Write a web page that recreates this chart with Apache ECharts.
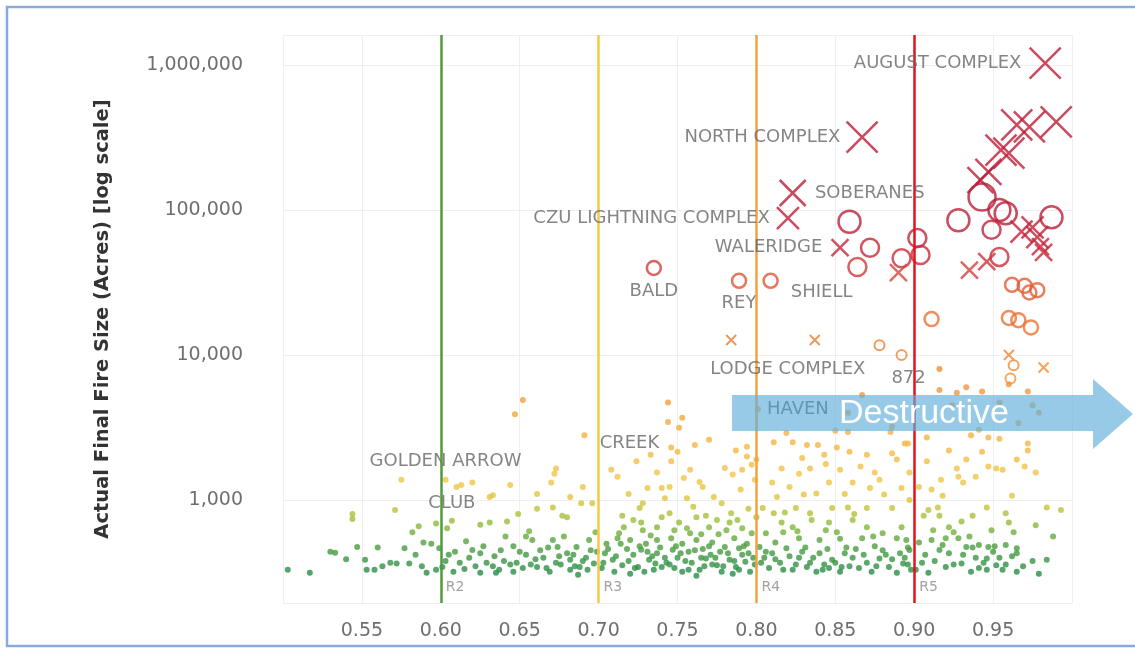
<!DOCTYPE html>
<html><head><meta charset="utf-8">
<script src="https://cdn.jsdelivr.net/npm/echarts@6/dist/echarts.min.js"></script>
<style>html,body{margin:0;padding:0;background:#fff}#c{width:1135px;height:650px}</style>
</head><body><div id="c"></div>
<script>
// ---- data ----
const refLines = [0.60, 0.70, 0.80, 0.90];
const refNames = ['R2', 'R3', 'R4', 'R5'];
const xTickValues = [0.55, 0.60, 0.65, 0.70, 0.75, 0.80, 0.85, 0.90, 0.95];
const yTickValues = [1000, 10000, 100000, 1000000];

const dots = [
  [0.503,330],[0.517,315],[0.530,440],[0.533,433],[0.544,800],[0.544,740],[0.547,474],[0.552,387],[0.553,330],[0.558,330],
  [0.568,370],[0.572,365],[0.571,853],[0.575,1380],[0.577,465],[0.580,365],[0.582,600],[0.589,510],[0.591,315],[0.594,500],
  [0.597,690],[0.597,330],[0.599,465],[0.601,345],[0.604,640],[0.608,320],[0.610,1230],[0.613,1270],[0.615,335],[0.620,453],
  [0.620,1320],[0.625,675],[0.625,430],[0.625,315],[0.629,370],[0.631,1050],[0.633,1080],[0.631,700],[0.633,350],[0.635,315],
  [0.642,710],[0.644,1270],[0.646,480],[0.646,320],[0.647,3900],[0.648,370],[0.649,800],[0.652,4900],[0.654,560],[0.654,420],
  [0.658,530],[0.661,1100],[0.661,870],[0.661,345],[0.667,340],[0.670,1320],[0.671,890],[0.671,530],[0.672,1520],[0.673,1650],
  [0.673,370],[0.674,474],[0.677,780],[0.680,430],[0.680,760],[0.682,1050],[0.682,387],[0.682,330],[0.686,474],[0.688,345],
  [0.689,950],[0.690,1230],[0.691,2800],[0.692,400],[0.694,530],[0.696,950],[0.697,365],[0.699,440],
  [0.665,400],[0.676,360],[0.684,420],[0.690,380],[0.695,450],[0.687,305],[0.663,450],[0.657,360],[0.640,380],[0.638,450],
  [0.618,400],[0.612,370],[0.605,420],[0.588,350],[0.584,420],[0.563,350],[0.540,390],[0.560,470],[0.586,660],
  [0.603,380],[0.609,440],[0.616,520],[0.622,350],[0.627,480],[0.634,410],[0.637,330],[0.644,360],[0.650,440],[0.652,340],
  [0.656,610],[0.660,390],[0.668,470],[0.669,320],[0.675,410],[0.678,560],[0.685,350],[0.693,330],[0.698,600],[0.641,560],
  [0.744,4700],[0.744,3450],[0.753,3700],[0.751,3150],[0.761,2400],[0.746,2300],[0.750,2150],[0.746,1850],[0.758,1620],[0.708,1620],
  [0.712,1450],[0.737,1550],[0.764,1330],[0.766,1230],[0.731,1210],[0.740,1210],[0.745,1230],[0.780,1660],[0.794,2330],[0.794,2000],
  [0.791,1620],[0.790,1180],[0.799,1380],[0.728,950],[0.742,1030],[0.756,1030],[0.778,950],
  [0.715,780],[0.722,728],[0.740,760],[0.745,810],[0.751,700],[0.762,760],[0.768,780],[0.775,728],[0.784,810],[0.788,728],
  [0.716,650],[0.728,620],[0.737,650],[0.756,640],[0.770,650],[0.781,620],[0.791,640],
  [0.705,500],[0.712,545],[0.720,530],[0.730,500],[0.737,530],[0.746,545],[0.753,500],[0.762,530],[0.772,510],[0.780,474],
  [0.786,545],[0.794,500],
  [0.704,430],[0.709,387],[0.715,355],[0.722,420],[0.725,345],[0.732,387],[0.737,430],[0.740,345],[0.743,370],[0.750,400],
  [0.753,320],[0.759,370],[0.764,330],[0.768,395],[0.775,355],[0.778,320],[0.783,387],[0.787,345],[0.791,420],[0.796,320],
  [0.710,320],[0.729,320],
  [0.718,460],[0.727,455],[0.734,410],[0.747,455],[0.757,440],[0.766,460],[0.771,420],[0.777,440],[0.789,465],[0.798,400],
  [0.702,340],[0.720,310],[0.736,365],[0.748,340],[0.762,300],[0.772,360],[0.785,310],[0.793,375],[0.713,590],[0.733,570],
  [0.758,590],[0.776,580],[0.797,590],[0.726,880],[0.760,900],[0.795,870],[0.719,1100],[0.773,1050],[0.754,1420],[0.785,1500],
  [0.733,2050],[0.770,2600],[0.787,2200],[0.797,1750],
  [0.703,370],[0.706,460],[0.711,410],[0.714,500],[0.719,380],[0.723,340],[0.726,480],[0.731,440],[0.735,330],[0.739,470],
  [0.742,400],[0.745,360],[0.749,480],[0.752,430],[0.755,380],[0.757,330],[0.761,450],[0.765,400],[0.767,350],[0.770,480],
  [0.774,400],[0.779,350],[0.782,430],[0.786,380],[0.789,330],[0.792,480],[0.795,430],[0.799,360],[0.727,700],[0.748,620],
  [0.765,580],[0.783,700],
  [0.867,5300],[0.819,2900],[0.811,2500],[0.823,2500],[0.832,2400],[0.839,2400],[0.851,2300],[0.859,2150],[0.870,2050],[0.886,2100],
  [0.894,2450],[0.885,2950],[0.858,2950],[0.800,1900],[0.816,1650],[0.827,1520],[0.834,1650],[0.844,1770],[0.853,1620],[0.861,1320],
  [0.872,1210],[0.878,1380],[0.889,1900],[0.810,1320],[0.821,1230],[0.830,1090],[0.838,1110],[0.846,1320],[0.892,1210],[0.881,1090],
  [0.804,880],[0.811,810],[0.825,880],[0.834,810],[0.848,880],[0.858,890],[0.870,880],[0.886,880],[0.816,700],[0.823,650],
  [0.835,728],[0.846,700],[0.861,728],[0.870,650],[0.880,590],[0.889,545],[0.892,650],[0.806,590],[0.827,545],[0.840,530],
  [0.853,540],[0.867,545],
  [0.802,474],[0.810,430],[0.819,465],[0.827,400],[0.834,370],[0.840,430],[0.848,387],[0.854,345],[0.861,400],[0.870,370],
  [0.878,395],[0.884,345],[0.891,430],[0.808,340],[0.823,330],[0.838,320],[0.853,320],[0.873,320],[0.889,315],[0.815,370],
  [0.832,345],[0.846,340],[0.865,340],
  [0.850,3000],[0.886,3200],[0.858,4000],[0.829,1950],[0.843,2050],[0.866,1700],[0.875,1550],[0.856,1100],[0.813,1050],[0.897,1000],
  [0.800,760],[0.817,600],[0.844,620],[0.857,470],[0.875,480],[0.896,470],[0.831,470],[0.812,510],[0.882,420],[0.896,360],
  [0.805,400],[0.843,360],
  [0.803,370],[0.806,440],[0.812,390],[0.817,330],[0.821,410],[0.825,360],[0.829,440],[0.836,400],[0.842,330],[0.845,460],
  [0.850,370],[0.856,430],[0.859,350],[0.863,460],[0.868,420],[0.876,350],[0.880,450],[0.886,390],[0.894,400],[0.898,330],
  [0.826,610],[0.851,600],[0.874,560],[0.862,800],[0.818,820],
  [0.916,5740],[0.927,5500],[0.933,6000],[0.943,5600],[0.924,4500],[0.954,4700],[0.972,5600],[0.975,4500],[0.979,4000],[0.966,3400],
  [0.960,6300],[0.916,8000],[0.972,2450],[0.972,2200],[0.941,3050],[0.947,2700],[0.954,2650],[0.936,2800],[0.908,2700],[0.896,2450],
  [0.922,2200],[0.943,2150],[0.933,1900],[0.965,1900],[0.908,1850],[0.952,1650],[0.947,1700],[0.956,1620],[0.927,1650],[0.928,1450],
  [0.939,1450],[0.931,1320],[0.897,1550],[0.903,1230],[0.917,1380],[0.970,1700],[0.977,1550],[0.911,1180],[0.918,1070],[0.915,890],
  [0.909,853],[0.946,890],[0.958,810],[0.962,1070],[0.984,890],[0.993,853],[0.937,780],[0.930,710],[0.949,620],[0.977,670],
  [0.922,650],[0.916,780],[0.906,780],
  [0.895,530],[0.903,510],[0.911,530],[0.920,545],[0.928,545],[0.916,453],[0.922,430],[0.933,474],[0.941,490],[0.947,474],
  [0.958,490],[0.965,465],[0.939,400],[0.946,395],[0.954,400],[0.965,430],[0.930,365],[0.941,340],[0.952,355],[0.965,320],
  [0.979,310],[0.984,387],[0.893,365],[0.905,370],[0.909,315],[0.920,345],[0.901,330],[0.897,453],[0.936,320],[0.946,330],
  [0.958,360],[0.950,440],[0.925,600],[0.960,700],
  [0.907,420],[0.913,380],[0.918,490],[0.925,360],[0.931,420],[0.937,470],[0.944,370],[0.951,480],[0.956,330],[0.962,410],
  [0.969,350],[0.975,380],[0.912,620],[0.935,560],[0.963,600],[0.988,560]
];
const namedDots = [[0.603,1380,'GOLDEN ARROW'],[0.607,720,'CLUB'],[0.724,1850,'CREEK'],[0.801,4250,'HAVEN']];

const ringsXL = [[0.943,123000]];
const ringsL  = [[0.859,83000],[0.928,85000],[0.954,100000],[0.958,95000],[0.987,89000]];
const ringsM  = [[0.949,73000],[0.872,55000],[0.892,46500],[0.902,64000],[0.904,49000],[0.954,47500],[0.864,40500]];
const ringsS  = [[0.735,39800,'BALD'],[0.789,32500,'REY'],[0.809,32500,'SHIELL'],[0.962,30500],[0.970,30000],[0.973,27000],
                 [0.978,28000],[0.960,18000],[0.966,17400],[0.974,15500],[0.911,17700]];
const ringsXS = [[0.878,11700],[0.892,10000,'872'],[0.963,8500],[0.961,6900]];

const crossXL = [[0.983,1030000,'AUGUST COMPLEX'],[0.867,318000,'NORTH COMPLEX'],[0.990,405000],[0.973,374000],[0.965,386000],[0.960,247000],[0.955,259000]];
const crossL  = [[0.823,131000,'SOBERANES'],[0.947,183000],[0.942,161000]];
const crossM  = [[0.820,88000,'CZU LIGHTNING COMPLEX'],[0.975,76000],[0.978,65000],[0.968,71000]];
const crossS  = [[0.853,55000,'WALERIDGE'],[0.980,56000],[0.982,51000],[0.946,44000],[0.890,37000],[0.935,38500]];
const crossXS = [[0.784,12700],[0.837,12700,'LODGE COMPLEX'],[0.960,10000],[0.982,8200]];

// ---- styles ----
const stops = [[2.5,[40,140,72]],[2.7,[80,160,64]],[2.85,[150,190,58]],[3.0,[222,198,60]],[3.15,[243,198,72]],
  [3.45,[245,178,66]],[3.7,[243,156,62]],[4.0,[240,134,56]],[4.3,[234,108,50]],[4.5,[224,90,54]],[4.6,[210,60,58]],[4.7,[198,42,60]],[5.0,[188,30,56]]];
function colorFor(v){
  const l = Math.log10(v);
  if (l <= stops[0][0]) return 'rgb(' + stops[0][1].join(',') + ')';
  for (let i = 1; i < stops.length; i++){
    if (l <= stops[i][0]){
      const t = (l - stops[i-1][0]) / (stops[i][0] - stops[i-1][0]);
      const a = stops[i-1][1], b = stops[i][1];
      return 'rgb(' + a.map((c,k)=>Math.round(c + (b[k]-c)*t)).join(',') + ')';
    }
  }
  return 'rgb(' + stops[stops.length-1][1].join(',') + ')';
}
const labelBase = {show:true, fontFamily:'DejaVu Sans', fontSize:18, color:'#666'};
const labelStyles = {
  'AUGUST COMPLEX': {position:'left', distance:7},
  'NORTH COMPLEX': {position:'left', distance:5},
  'SOBERANES': {position:'right', distance:8},
  'CZU LIGHTNING COMPLEX': {position:'left', distance:6},
  'WALERIDGE': {position:'left', distance:8},
  'BALD': {position:'bottom', distance:6},
  'REY': {position:'bottom', distance:5},
  'SHIELL': {position:'right', distance:12, offset:[0,12]},
  'LODGE COMPLEX': {position:'bottom', distance:8, offset:[-27,6]},
  '872': {position:'bottom', distance:6, offset:[7,2]},
  'HAVEN': {position:'right', distance:6, color:'#3a3a3a'},
  'CREEK': {position:'top', distance:6, offset:[-7,0]},
  'GOLDEN ARROW': {position:'top', distance:6},
  'CLUB': {position:'top', distance:5}
};
function build(arr, kind){
  return arr.map(d => {
    const c = colorFor(d[1]);
    const o = {value:[d[0], d[1]]};
    if (kind === 'dot') o.itemStyle = {color:c};
    else o.itemStyle = {color:'rgba(0,0,0,0)', borderColor:c};
    if (d[2]) o.label = Object.assign({}, labelBase, {formatter:d[2]}, labelStyles[d[2]] || {});
    return o;
  });
}
const crossPath = 'path://M0,0L20,20M20,0L0,20';
function ringSeries(arr, size, bw){
  return {type:'scatter', symbol:'circle', symbolSize:size, data:build(arr,'ring'),
    itemStyle:{borderWidth:bw}, z:4, silent:true};
}
function crossSeries(arr, size, bw){
  return {type:'scatter', symbol:crossPath, symbolSize:size, data:build(arr,'cross'),
    itemStyle:{borderWidth:bw}, z:5, silent:true};
}
function fmtNum(v){ return String(Math.round(v)).replace(/\B(?=(\d{3})+(?!\d))/g, ','); }

const chart = echarts.init(document.getElementById('c'), null, {renderer:'canvas'});
chart.setOption({
  animation:false,
  backgroundColor:'#ffffff',
  grid:{left:283, right:63, top:35, bottom:47},
  xAxis:{type:'value', min:0.5, max:1.0, interval:0.05,
    axisLine:{show:false}, axisTick:{show:false},
    splitLine:{show:true, lineStyle:{color:'#efefef', width:1}},
    axisLabel:{margin:19, fontFamily:'DejaVu Sans', fontSize:19, color:'#6f6f6f',
      formatter:v => xTickValues.some(t => Math.abs(t - v) < 1e-6) ? v.toFixed(2) : ''}},
  yAxis:{type:'log', min:195, max:1610000, logBase:10,
    name:'Actual Final Fire Size (Acres) [log scale]', nameLocation:'middle', nameGap:170,
    nameTextStyle:{fontFamily:'DejaVu Sans', fontWeight:'bold', fontSize:19.5, color:'#333'},
    axisLine:{show:false}, axisTick:{show:false},
    splitLine:{show:true, lineStyle:{color:'#efefef', width:1}},
    axisLabel:{margin:40, fontFamily:'DejaVu Sans', fontSize:19, color:'#6f6f6f', showMinLabel:false, showMaxLabel:false,
      formatter:v => yTickValues.some(t => Math.abs(t - v)/t < 1e-6) ? fmtNum(v) : ''}},
  series:[
    {type:'scatter', symbol:'circle', symbolSize:6, data:build(dots,'dot'), z:2, silent:true},
    {type:'scatter', symbol:'circle', symbolSize:6, data:build(namedDots,'dot'), z:2, silent:true},
    {type:'scatter', data:[], z:3, silent:true,
      markLine:{silent:true, symbol:'none', label:{show:false},
        data:refLines.map((x,i)=>({xAxis:x, lineStyle:{color:['#4f9a3f','#f5c94a','#f5a040','#e3131c'][i], width:2.5, type:'solid'}}))}},
    {type:'scatter', symbolSize:0, z:3, silent:true,
      data:refLines.map((x,i)=>({value:[x, 250], label:{show:true, formatter:refNames[i], position:'right', distance:5,
        fontFamily:'DejaVu Sans', fontSize:14, color:'#8a8a8a'}}))},
    ringSeries(ringsXS, 10, 2),
    ringSeries(ringsS, 14, 2.5),
    ringSeries(ringsM, 18, 2.5),
    ringSeries(ringsL, 22, 2.5),
    ringSeries(ringsXL, 27, 2.5),
    crossSeries(crossXS, 10, 2),
    crossSeries(crossS, 17, 2.5),
    crossSeries(crossM, 22, 2.5),
    crossSeries(crossL, 26, 2.5),
    crossSeries(crossXL, 31, 2.5)
  ],
  graphic:[
    {type:'rect', shape:{x:7, y:7, width:1150, height:639}, style:{fill:'none', stroke:'#8aaadc', lineWidth:2.5}, z:100, silent:true},
    {type:'polygon', shape:{points:[[732,395],[1093,395],[1093,379],[1133,414],[1093,449],[1093,431],[732,431]]},
      style:{fill:'rgba(95,175,218,0.66)'}, z:100, silent:true},
    {type:'text', x:924, y:414, style:{text:'Destructive', fill:'#ffffff', font:'34px "Liberation Sans", Arial, sans-serif',
      align:'center', verticalAlign:'middle'}, z:101, silent:true}
  ]
});
</script></body></html>
